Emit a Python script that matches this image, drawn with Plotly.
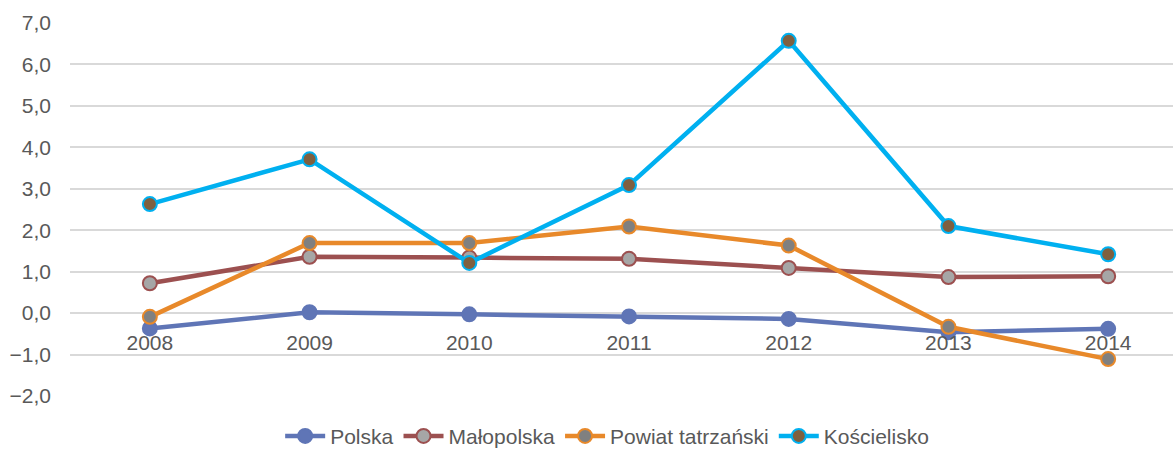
import plotly.graph_objects as go

years = ["2008", "2009", "2010", "2011", "2012", "2013", "2014"]

polska = [-0.37, 0.02, -0.03, -0.08, -0.14, -0.46, -0.38]
malopolska = [0.72, 1.36, 1.34, 1.31, 1.09, 0.87, 0.89]
powiat_tatrzanski = [-0.09, 1.69, 1.69, 2.09, 1.63, -0.33, -1.11]
koscielisko = [2.63, 3.71, 1.21, 3.09, 6.57, 2.10, 1.42]

# name, values, line colour, marker fill
series = [
    ("Polska", polska, "#5F75B6", "#5F75B6"),
    ("Małopolska", malopolska, "#9C5050", "#A6A6A6"),
    ("Powiat tatrzański", powiat_tatrzanski, "#E8892A", "#808080"),
    ("Kościelisko", koscielisko, "#00B0F0", "#7F6040"),
]

fig = go.Figure()
for name, vals, line_col, fill_col in series:
    fig.add_trace(go.Scatter(
        x=years,
        y=vals,
        name=name,
        mode="lines+markers",
        line=dict(color=line_col, width=4.5),
        marker=dict(size=14, color=fill_col, line=dict(color=line_col, width=2)),
    ))

font = dict(family="Liberation Sans, Arial, sans-serif", size=21, color="#595959")

fig.update_layout(
    width=1173,
    height=457,
    margin=dict(l=70, r=0, t=23, b=61, autoexpand=False),
    paper_bgcolor="white",
    plot_bgcolor="white",
    font=font,
    separators=",.",
    showlegend=True,
    legend=dict(
        orientation="h",
        x=0.487, xanchor="center",
        y=-0.163, yanchor="bottom",
        font=font,
        itemwidth=40,
    ),
    xaxis=dict(
        type="category",
        range=[-0.5, 6.406],
        automargin=False,
        showgrid=False,
        showline=False,
        zeroline=False,
        anchor="free",
        position=0.2232,
        ticks="outside",
        ticklen=11,
        tickcolor="rgba(0,0,0,0)",
        tickfont=font,
    ),
    yaxis=dict(
        range=[-2, 7],
        dtick=1,
        tickformat=".1f",
        automargin=False,
        showgrid=True,
        gridcolor="#D9D9D9",
        gridwidth=1.5,
        zeroline=True,
        zerolinecolor="#D9D9D9",
        zerolinewidth=1.5,
        showline=False,
        ticks="",
        ticklabelstandoff=18,
        tickfont=font,
    ),
)

# page has a default 8px body margin; drop it so the figure sits at (0, 0)
fig.write_html(
    "out.html",
    config={"displayModeBar": False},
    post_script="document.body.style.margin='0';",
)
